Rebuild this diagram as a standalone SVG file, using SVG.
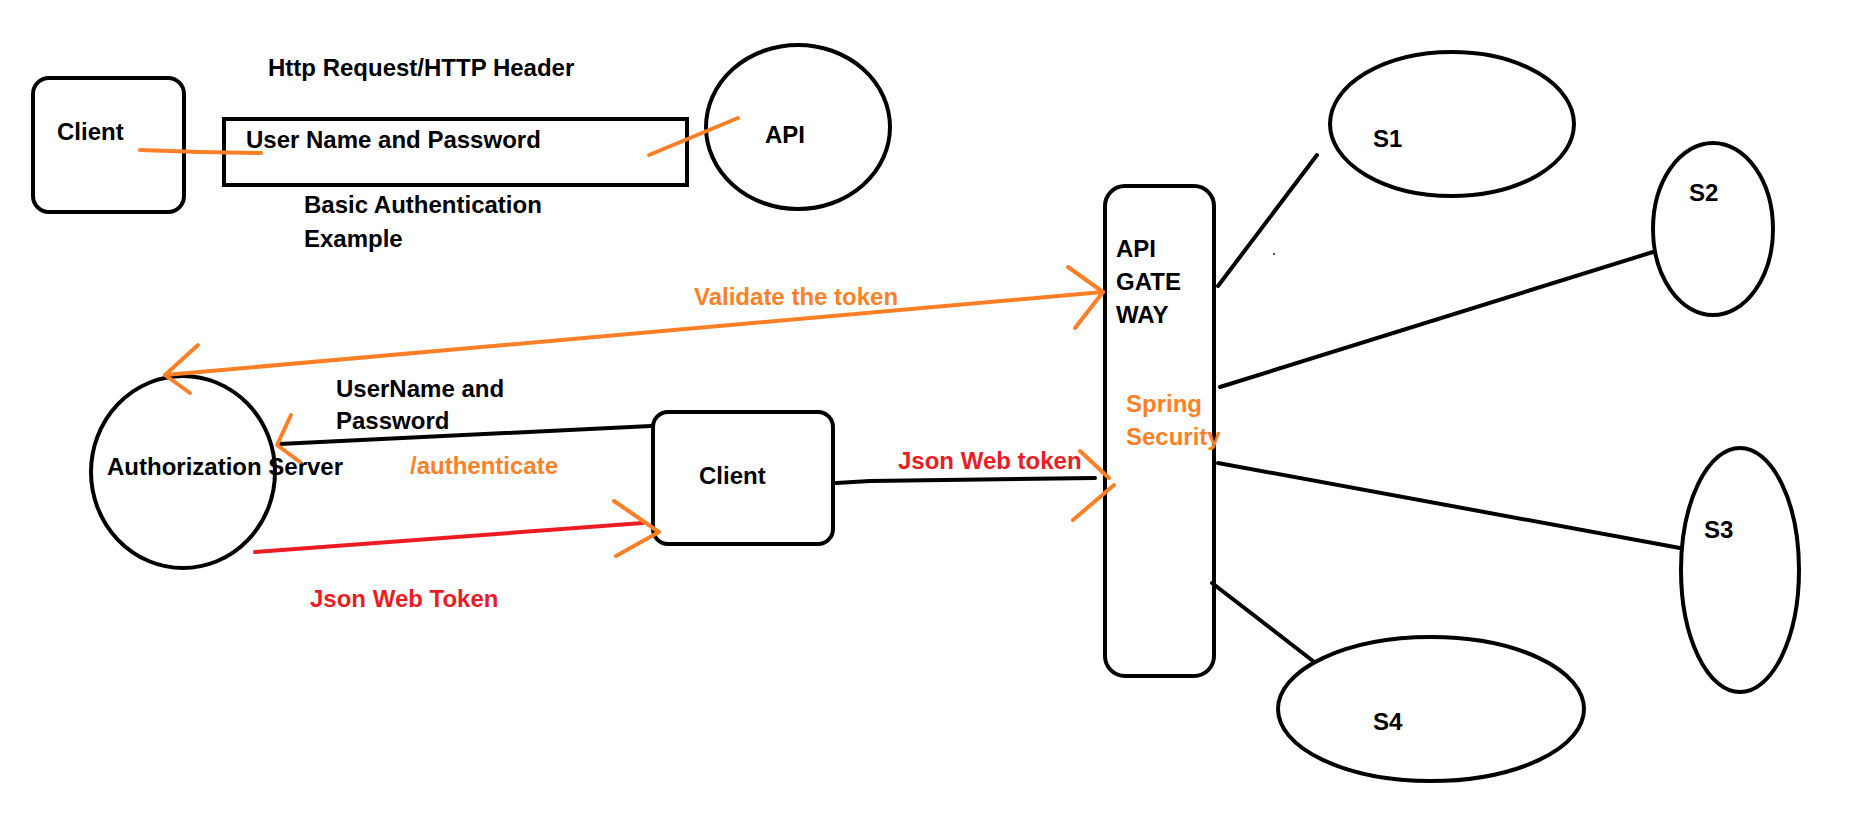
<svg xmlns="http://www.w3.org/2000/svg" width="1853" height="840" viewBox="0 0 1853 840">
<style>
  .shape { fill: none; stroke: #000; stroke-width: 4; }
  .t { font-family: "Liberation Sans", Arial, sans-serif; font-weight: bold; font-size: 24px; fill: #000; }
  .o { fill: #FF7F27; }
  .r { fill: #ED1C24; }
  .lk { fill: none; stroke: #000; stroke-width: 4; stroke-linecap: round; stroke-linejoin: round; }
  .lo { fill: none; stroke: #FF7F27; stroke-width: 4; stroke-linecap: round; stroke-linejoin: round; }
  .lr { fill: none; stroke: #ED1C24; stroke-width: 4; stroke-linecap: round; }
</style>
<rect x="0" y="0" width="1853" height="840" fill="#fff"/>

<g id="client-top">
  <rect class="shape" x="33" y="78" width="151" height="134" rx="16"/>
  <text class="t" x="57" y="140">Client</text>
</g>
<g id="credentials-box">
  <rect class="shape" x="224" y="119" width="463" height="66"/>
  <text class="t" x="246" y="148">User Name and Password</text>
</g>
<g id="http-label">
  <text class="t" x="268" y="76">Http Request/HTTP Header</text>
</g>
<g id="basic-label">
  <text class="t" x="304" y="213">Basic Authentication</text>
  <text class="t" x="304" y="247">Example</text>
</g>
<g id="api">
  <ellipse class="shape" cx="798" cy="127" rx="92" ry="82"/>
  <text class="t" x="765" y="143">API</text>
</g>
<g id="auth-server">
  <ellipse class="shape" cx="183" cy="472" rx="92" ry="96"/>
  <text class="t" x="107" y="475">Authorization Server</text>
</g>
<g id="client-bottom">
  <rect class="shape" x="653" y="412" width="180" height="132" rx="15"/>
  <text class="t" x="699" y="484">Client</text>
</g>
<g id="api-gateway">
  <rect class="shape" x="1105" y="186" width="109" height="490" rx="20"/>
  <text class="t" x="1116" y="257">API</text>
  <text class="t" x="1116" y="290">GATE</text>
  <text class="t" x="1116" y="323">WAY</text>
  <text class="t o" x="1126" y="412">Spring</text>
  <text class="t o" x="1126" y="445">Security</text>
</g>
<g id="s1">
  <ellipse class="shape" cx="1452" cy="124" rx="122" ry="72"/>
  <text class="t" x="1373" y="147">S1</text>
</g>
<g id="s2">
  <ellipse class="shape" cx="1713" cy="229" rx="60" ry="86"/>
  <text class="t" x="1689" y="201">S2</text>
</g>
<g id="s3">
  <ellipse class="shape" cx="1740" cy="570" rx="59" ry="122"/>
  <text class="t" x="1704" y="538">S3</text>
</g>
<g id="s4">
  <ellipse class="shape" cx="1431" cy="709" rx="153" ry="72"/>
  <text class="t" x="1373" y="730">S4</text>
</g>

<g id="connectors">
  <path class="lo" d="M140,150 L200,152 L261,153"/>
  <path class="lo" d="M649,155 L738,118"/>
  <path class="lo" d="M165,375 L1103,292"/>
  <path class="lo" d="M198,345 L165,375 L190,393"/>
  <path class="lo" d="M1068,267 L1103,292 L1075,328"/>
  <path class="lk" d="M651,426 L279,444"/>
  <path class="lo" d="M291,415 L277,445 L300,462"/>
  <path class="lr" d="M255,552 L643,523"/>
  <path class="lo" d="M614,501 L659,532 L616,556"/>
  <path class="lk" d="M836,483 L870,481 L1095,478"/>
  <path class="lo" d="M1080,451 L1109,478"/>
  <path class="lo" d="M1114,485 L1073,520"/>
  <path class="lk" d="M1218,286 L1317,155"/>
  <path class="lk" d="M1220,387 L1653,252"/>
  <path class="lk" d="M1218,463 L1680,548"/>
  <path class="lk" d="M1212,583 L1313,661"/>
  <rect x="1273" y="253" width="2" height="2" fill="#555"/>
</g>

<g id="labels">
  <text class="t o" x="694" y="305">Validate the token</text>
  <text class="t" x="336" y="397">UserName and</text>
  <text class="t" x="336" y="429">Password</text>
  <text class="t o" x="410" y="474">/authenticate</text>
  <text class="t r" x="310" y="607">Json Web Token</text>
  <text class="t r" x="898" y="469">Json Web token</text>
</g>
</svg>
